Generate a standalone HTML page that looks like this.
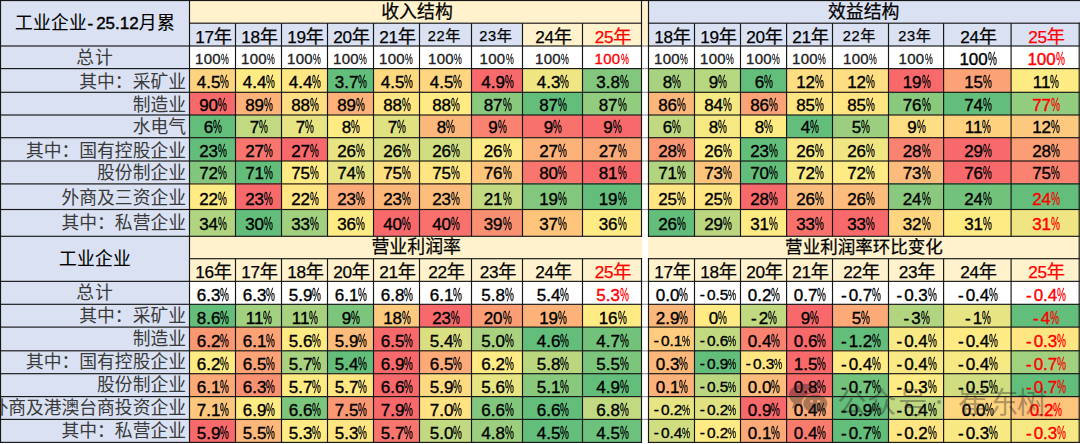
<!DOCTYPE html>
<html lang="zh"><head><meta charset="utf-8"><title>工业企业结构</title><style>
html,body{margin:0;padding:0}
body{width:1080px;height:444px;position:relative;overflow:hidden;background:#fff;font-family:"Liberation Sans","Noto Sans CJK SC",sans-serif;color:#000}
.c{position:absolute;box-sizing:border-box;display:flex;align-items:flex-end;justify-content:center;white-space:nowrap;line-height:1;overflow:visible}
.l{position:absolute;background:#1c1c1c;z-index:3}
.t{font-family:"Liberation Sans","Noto Sans CJK SC",sans-serif;font-size:17.8px;line-height:1;letter-spacing:0}
.y{font-family:"Liberation Sans","Noto Sans CJK SC",sans-serif;font-size:18.2px;line-height:1;letter-spacing:0}
.ys .y{font-size:15.2px}
.v{font-size:17px;padding-bottom:2.4px;padding-left:1.2px;-webkit-text-stroke:.38px currentColor}
.v.sm{font-size:15px;color:#222;padding-bottom:2.8px;padding-left:0;padding-right:1px;letter-spacing:.3px;-webkit-text-stroke:.35px currentColor}
.v.s2{font-size:15.4px;padding-bottom:3.2px}
.m{margin-right:2.1px}
.v.red,.v.sm.red{color:#ff0000}
.sm .p,.s2 .p{transform:scale(.59,.93)}
.p{display:inline-block;width:.53em;transform:scale(.59,1.04);transform-origin:0 85%;-webkit-text-stroke:.3px currentColor;letter-spacing:0}
.yh{font-size:17.2px;padding-bottom:1px;padding-left:2px;letter-spacing:-.3px;-webkit-text-stroke:.25px currentColor}
.ys{font-size:14.6px;letter-spacing:.7px;position:relative;top:-2.3px;left:-2.4px}
.yr{display:inline-block}
.lb{justify-content:flex-end;padding-right:4px;padding-bottom:1.5px;color:#3a3a3a}
.lb.ctr{justify-content:center;padding-right:0}
.hd{align-items:center;font-size:17px;color:#000;-webkit-text-stroke:.4px #000}
.hy{font-style:normal;display:inline-block;margin:0 3px 0 .5px}
.hd .t{-webkit-text-stroke:.1px #000}
.hd .ttl{position:relative;top:.6px}
.sec{align-items:center;color:#000;padding-top:2px}
.sec .t{font-size:17.9px;-webkit-text-stroke:.25px #000}
.wm{position:absolute;fill:rgba(30,30,30,0.37);z-index:5}
</style></head>
<body>
<div class="c hd" style="left:0px;top:0px;width:190px;height:47px;background:#d9e1f2"><span class="ttl"><span class="t" style="letter-spacing:.18px">工业企业</span><i class="hy">-</i>25.12<span class="t">月</span><i style="display:inline-block;width:.6px"></i><span class="t">累</span></span></div>
<div class="c lb ctr" style="left:0px;top:46px;width:190px;height:23px;background:#d9e1f2"><span class="t" style="letter-spacing:1px">总计</span></div>
<div class="c lb" style="left:0px;top:68px;width:190px;height:25px;background:#d9e1f2"><span class="t">其中：采矿业</span></div>
<div class="c lb" style="left:0px;top:92px;width:190px;height:24px;background:#d9e1f2"><span class="t">制造业</span></div>
<div class="c lb" style="left:0px;top:115px;width:190px;height:23px;background:#d9e1f2"><span class="t">水电气</span></div>
<div class="c lb" style="left:0px;top:137px;width:190px;height:25px;background:#d9e1f2"><span class="t">其中：国有控股企业</span></div>
<div class="c lb" style="left:0px;top:161px;width:190px;height:23px;background:#d9e1f2"><span class="t">股份制企业</span></div>
<div class="c lb" style="left:0px;top:183px;width:190px;height:27px;background:#d9e1f2;padding-bottom:2.4px"><span class="t">外商及三资企业</span></div>
<div class="c lb" style="left:0px;top:209px;width:190px;height:28px;background:#d9e1f2;padding-bottom:4.0px"><span class="t">其中：私营企业</span></div>
<div class="c hd" style="left:0px;top:236px;width:190px;height:46px;background:#d9e1f2"><span class="ttl"><span class="t" style="letter-spacing:.18px">工业企业</span></span></div>
<div class="c lb ctr" style="left:0px;top:281px;width:190px;height:24px;background:#d9e1f2;padding-bottom:2.1px"><span class="t" style="letter-spacing:1px">总计</span></div>
<div class="c lb" style="left:0px;top:304px;width:190px;height:24px;background:#d9e1f2;padding-bottom:2.1px"><span class="t">其中：采矿业</span></div>
<div class="c lb" style="left:0px;top:327px;width:190px;height:24px;background:#d9e1f2;padding-bottom:2.1px"><span class="t">制造业</span></div>
<div class="c lb" style="left:0px;top:350px;width:190px;height:24px;background:#d9e1f2;padding-bottom:2.1px"><span class="t">其中：国有控股企业</span></div>
<div class="c lb" style="left:0px;top:373px;width:190px;height:24px;background:#d9e1f2;padding-bottom:2.1px"><span class="t">股份制企业</span></div>
<div class="c lb" style="left:0px;top:396px;width:190px;height:24px;background:#d9e1f2;padding-bottom:2.1px"><span class="t">外商及港澳台商投资企业</span></div>
<div class="c lb" style="left:0px;top:419px;width:190px;height:24px;background:#d9e1f2;padding-bottom:2.1px"><span class="t">其中：私营企业</span></div>
<div class="c sec" style="left:189px;top:0px;width:453px;height:24px;background:#fff2cc;padding-left:3px"><span class="t">收入结构</span></div>
<div class="c " style="left:641px;top:0px;width:8px;height:47px;background:#fff2cc"></div>
<div class="c sec" style="left:648px;top:0px;width:432px;height:24px;background:#d9e1f2;padding-right:.6px"><span class="t">效益结构</span></div>
<div class="c yh" style="left:189px;top:23px;width:47px;height:24px;background:#d9e1f2"><span class="yr">17<span class="y">年</span></span></div>
<div class="c yh" style="left:235px;top:23px;width:47px;height:24px;background:#d9e1f2"><span class="yr">18<span class="y">年</span></span></div>
<div class="c yh" style="left:281px;top:23px;width:47px;height:24px;background:#d9e1f2"><span class="yr">19<span class="y">年</span></span></div>
<div class="c yh" style="left:327px;top:23px;width:47px;height:24px;background:#d9e1f2"><span class="yr">20<span class="y">年</span></span></div>
<div class="c yh" style="left:373px;top:23px;width:47px;height:24px;background:#d9e1f2"><span class="yr">21<span class="y">年</span></span></div>
<div class="c yh" style="left:419px;top:23px;width:53px;height:24px;background:#d9e1f2"><span class="yr ys">22<span class="y">年</span></span></div>
<div class="c yh" style="left:471px;top:23px;width:52px;height:24px;background:#d9e1f2"><span class="yr ys">23<span class="y">年</span></span></div>
<div class="c yh" style="left:522px;top:23px;width:61px;height:24px;background:#fff2cc"><span class="yr">24<span class="y">年</span></span></div>
<div class="c yh" style="left:582px;top:23px;width:60px;height:24px;background:#fff2cc"><span class="yr" style="color:#f00">25<span class="y">年</span></span></div>
<div class="c yh" style="left:648px;top:23px;width:47px;height:24px;background:#d9e1f2"><span class="yr">18<span class="y">年</span></span></div>
<div class="c yh" style="left:694px;top:23px;width:47px;height:24px;background:#d9e1f2"><span class="yr">19<span class="y">年</span></span></div>
<div class="c yh" style="left:740px;top:23px;width:47px;height:24px;background:#d9e1f2"><span class="yr">20<span class="y">年</span></span></div>
<div class="c yh" style="left:786px;top:23px;width:47px;height:24px;background:#d9e1f2"><span class="yr">21<span class="y">年</span></span></div>
<div class="c yh" style="left:832px;top:23px;width:57px;height:24px;background:#d9e1f2"><span class="yr ys">22<span class="y">年</span></span></div>
<div class="c yh" style="left:888px;top:23px;width:56px;height:24px;background:#d9e1f2"><span class="yr ys">23<span class="y">年</span></span></div>
<div class="c yh" style="left:943px;top:23px;width:69px;height:24px;background:#d9e1f2"><span class="yr">24<span class="y">年</span></span></div>
<div class="c yh" style="left:1011px;top:23px;width:69px;height:24px;background:#d9e1f2"><span class="yr" style="color:#f00">25<span class="y">年</span></span></div>
<div class="c v sm" style="left:189px;top:46px;width:47px;height:23px;background:#fff">100<span class="p">%</span></div>
<div class="c v sm" style="left:235px;top:46px;width:47px;height:23px;background:#fff">100<span class="p">%</span></div>
<div class="c v sm" style="left:281px;top:46px;width:47px;height:23px;background:#fff">100<span class="p">%</span></div>
<div class="c v sm" style="left:327px;top:46px;width:47px;height:23px;background:#fff">100<span class="p">%</span></div>
<div class="c v sm" style="left:373px;top:46px;width:47px;height:23px;background:#fff">100<span class="p">%</span></div>
<div class="c v sm" style="left:419px;top:46px;width:53px;height:23px;background:#fff">100<span class="p">%</span></div>
<div class="c v sm" style="left:471px;top:46px;width:52px;height:23px;background:#fff">100<span class="p">%</span></div>
<div class="c v sm" style="left:522px;top:46px;width:61px;height:23px;background:#fff">100<span class="p">%</span></div>
<div class="c v sm red" style="left:582px;top:46px;width:60px;height:23px;background:#fff">100<span class="p">%</span></div>
<div class="c v sm" style="left:648px;top:46px;width:47px;height:23px;background:#fff">100<span class="p">%</span></div>
<div class="c v sm" style="left:694px;top:46px;width:47px;height:23px;background:#fff">100<span class="p">%</span></div>
<div class="c v sm" style="left:740px;top:46px;width:47px;height:23px;background:#fff">100<span class="p">%</span></div>
<div class="c v sm" style="left:786px;top:46px;width:47px;height:23px;background:#fff">100<span class="p">%</span></div>
<div class="c v sm" style="left:832px;top:46px;width:57px;height:23px;background:#fff">100<span class="p">%</span></div>
<div class="c v sm" style="left:888px;top:46px;width:56px;height:23px;background:#fff">100<span class="p">%</span></div>
<div class="c v" style="left:943px;top:46px;width:69px;height:23px;background:#fff;padding-bottom:1.3px">100<span class="p">%</span></div>
<div class="c v red" style="left:1011px;top:46px;width:69px;height:23px;background:#fff;padding-bottom:1.3px">100<span class="p">%</span></div>
<div class="c " style="left:641px;top:46px;width:8px;height:397px;background:#fff"></div>
<div class="c v" style="left:189px;top:68px;width:47px;height:25px;background:#fed480">4.5<span class="p">%</span></div>
<div class="c v" style="left:235px;top:68px;width:47px;height:25px;background:#ffeb84">4.4<span class="p">%</span></div>
<div class="c v" style="left:281px;top:68px;width:47px;height:25px;background:#ffe884">4.4<span class="p">%</span></div>
<div class="c v" style="left:327px;top:68px;width:47px;height:25px;background:#63be7b">3.7<span class="p">%</span></div>
<div class="c v" style="left:373px;top:68px;width:47px;height:25px;background:#fed980">4.5<span class="p">%</span></div>
<div class="c v" style="left:419px;top:68px;width:53px;height:25px;background:#fed680">4.5<span class="p">%</span></div>
<div class="c v" style="left:471px;top:68px;width:52px;height:25px;background:#f8696b">4.9<span class="p">%</span></div>
<div class="c v" style="left:522px;top:68px;width:61px;height:25px;background:#efe683">4.3<span class="p">%</span></div>
<div class="c v" style="left:582px;top:68px;width:60px;height:25px;background:#82c77d">3.8<span class="p">%</span></div>
<div class="c v" style="left:189px;top:92px;width:47px;height:24px;background:#f8696b">90<span class="p">%</span></div>
<div class="c v" style="left:235px;top:92px;width:47px;height:24px;background:#fcb279">89<span class="p">%</span></div>
<div class="c v" style="left:281px;top:92px;width:47px;height:24px;background:#fede82">88<span class="p">%</span></div>
<div class="c v" style="left:327px;top:92px;width:47px;height:24px;background:#fcb279">89<span class="p">%</span></div>
<div class="c v" style="left:373px;top:92px;width:47px;height:24px;background:#ffe683">88<span class="p">%</span></div>
<div class="c v" style="left:419px;top:92px;width:53px;height:24px;background:#ffeb84">88<span class="p">%</span></div>
<div class="c v" style="left:471px;top:92px;width:52px;height:24px;background:#88c97d">87<span class="p">%</span></div>
<div class="c v" style="left:522px;top:92px;width:61px;height:24px;background:#63be7b">87<span class="p">%</span></div>
<div class="c v" style="left:582px;top:92px;width:60px;height:24px;background:#92cc7e">87<span class="p">%</span></div>
<div class="c v" style="left:189px;top:115px;width:47px;height:23px;background:#63be7b">6<span class="p">%</span></div>
<div class="c v" style="left:235px;top:115px;width:47px;height:23px;background:#c1d980">7<span class="p">%</span></div>
<div class="c v" style="left:281px;top:115px;width:47px;height:23px;background:#e6e483">7<span class="p">%</span></div>
<div class="c v" style="left:327px;top:115px;width:47px;height:23px;background:#ffeb84">8<span class="p">%</span></div>
<div class="c v" style="left:373px;top:115px;width:47px;height:23px;background:#e0e282">7<span class="p">%</span></div>
<div class="c v" style="left:419px;top:115px;width:53px;height:23px;background:#fcb77a">8<span class="p">%</span></div>
<div class="c v" style="left:471px;top:115px;width:52px;height:23px;background:#f98370">9<span class="p">%</span></div>
<div class="c v" style="left:522px;top:115px;width:61px;height:23px;background:#f8716c">9<span class="p">%</span></div>
<div class="c v" style="left:582px;top:115px;width:60px;height:23px;background:#f8696b">9<span class="p">%</span></div>
<div class="c v" style="left:189px;top:137px;width:47px;height:25px;background:#63be7b">23<span class="p">%</span></div>
<div class="c v" style="left:235px;top:137px;width:47px;height:25px;background:#f9766e">27<span class="p">%</span></div>
<div class="c v" style="left:281px;top:137px;width:47px;height:25px;background:#f8696b">27<span class="p">%</span></div>
<div class="c v" style="left:327px;top:137px;width:47px;height:25px;background:#e6e483">26<span class="p">%</span></div>
<div class="c v" style="left:373px;top:137px;width:47px;height:25px;background:#dae082">26<span class="p">%</span></div>
<div class="c v" style="left:419px;top:137px;width:53px;height:25px;background:#d0de81">26<span class="p">%</span></div>
<div class="c v" style="left:471px;top:137px;width:52px;height:25px;background:#ffeb84">26<span class="p">%</span></div>
<div class="c v" style="left:522px;top:137px;width:61px;height:25px;background:#fcb279">27<span class="p">%</span></div>
<div class="c v" style="left:582px;top:137px;width:60px;height:25px;background:#fcaa78">27<span class="p">%</span></div>
<div class="c v" style="left:189px;top:161px;width:47px;height:23px;background:#82c77d">72<span class="p">%</span></div>
<div class="c v" style="left:235px;top:161px;width:47px;height:23px;background:#63be7b">71<span class="p">%</span></div>
<div class="c v" style="left:281px;top:161px;width:47px;height:23px;background:#ffeb84">75<span class="p">%</span></div>
<div class="c v" style="left:327px;top:161px;width:47px;height:23px;background:#e6e483">74<span class="p">%</span></div>
<div class="c v" style="left:373px;top:161px;width:47px;height:23px;background:#fede82">75<span class="p">%</span></div>
<div class="c v" style="left:419px;top:161px;width:53px;height:23px;background:#ffe683">75<span class="p">%</span></div>
<div class="c v" style="left:471px;top:161px;width:52px;height:23px;background:#fdc47c">76<span class="p">%</span></div>
<div class="c v" style="left:522px;top:161px;width:61px;height:23px;background:#f9766e">80<span class="p">%</span></div>
<div class="c v" style="left:582px;top:161px;width:60px;height:23px;background:#f8696b">81<span class="p">%</span></div>
<div class="c v" style="left:189px;top:183px;width:47px;height:27px;background:#ffeb84">22<span class="p">%</span></div>
<div class="c v" style="left:235px;top:183px;width:47px;height:27px;background:#f8696b">23<span class="p">%</span></div>
<div class="c v" style="left:281px;top:183px;width:47px;height:27px;background:#ffe683">22<span class="p">%</span></div>
<div class="c v" style="left:327px;top:183px;width:47px;height:27px;background:#fcaa78">23<span class="p">%</span></div>
<div class="c v" style="left:373px;top:183px;width:47px;height:27px;background:#fcb77a">23<span class="p">%</span></div>
<div class="c v" style="left:419px;top:183px;width:53px;height:27px;background:#fcbc7b">23<span class="p">%</span></div>
<div class="c v" style="left:471px;top:183px;width:52px;height:27px;background:#c1d980">21<span class="p">%</span></div>
<div class="c v" style="left:522px;top:183px;width:61px;height:27px;background:#82c77d">19<span class="p">%</span></div>
<div class="c v" style="left:582px;top:183px;width:60px;height:27px;background:#63be7b">19<span class="p">%</span></div>
<div class="c v" style="left:189px;top:209px;width:47px;height:28px;background:#b1d480;padding-bottom:3.6px">34<span class="p">%</span></div>
<div class="c v" style="left:235px;top:209px;width:47px;height:28px;background:#63be7b;padding-bottom:3.6px">30<span class="p">%</span></div>
<div class="c v" style="left:281px;top:209px;width:47px;height:28px;background:#a1d07f;padding-bottom:3.6px">33<span class="p">%</span></div>
<div class="c v" style="left:327px;top:209px;width:47px;height:28px;background:#ffeb84;padding-bottom:3.6px">36<span class="p">%</span></div>
<div class="c v" style="left:373px;top:209px;width:47px;height:28px;background:#f8696b;padding-bottom:3.6px">40<span class="p">%</span></div>
<div class="c v" style="left:419px;top:209px;width:53px;height:28px;background:#f8716c;padding-bottom:3.6px">40<span class="p">%</span></div>
<div class="c v" style="left:471px;top:209px;width:52px;height:28px;background:#fa9072;padding-bottom:3.6px">39<span class="p">%</span></div>
<div class="c v" style="left:522px;top:209px;width:61px;height:28px;background:#fdc47c;padding-bottom:3.6px">37<span class="p">%</span></div>
<div class="c v" style="left:582px;top:209px;width:60px;height:28px;background:#ffeb84;padding-bottom:3.6px">36<span class="p">%</span></div>
<div class="c v" style="left:648px;top:68px;width:47px;height:25px;background:#a8d27f">8<span class="p">%</span></div>
<div class="c v" style="left:694px;top:68px;width:47px;height:25px;background:#b7d680">9<span class="p">%</span></div>
<div class="c v" style="left:740px;top:68px;width:47px;height:25px;background:#63be7b">6<span class="p">%</span></div>
<div class="c v" style="left:786px;top:68px;width:47px;height:25px;background:#fede82">12<span class="p">%</span></div>
<div class="c v" style="left:832px;top:68px;width:57px;height:25px;background:#fede82">12<span class="p">%</span></div>
<div class="c v" style="left:888px;top:68px;width:56px;height:25px;background:#f8696b">19<span class="p">%</span></div>
<div class="c v" style="left:943px;top:68px;width:69px;height:25px;background:#fba276">15<span class="p">%</span></div>
<div class="c v" style="left:1011px;top:68px;width:69px;height:25px;background:#ffeb84">11<span class="p">%</span></div>
<div class="c v" style="left:648px;top:92px;width:47px;height:24px;background:#fcb77a">86<span class="p">%</span></div>
<div class="c v" style="left:694px;top:92px;width:47px;height:24px;background:#f6e883">84<span class="p">%</span></div>
<div class="c v" style="left:740px;top:92px;width:47px;height:24px;background:#fba276">86<span class="p">%</span></div>
<div class="c v" style="left:786px;top:92px;width:47px;height:24px;background:#ffe683">85<span class="p">%</span></div>
<div class="c v" style="left:832px;top:92px;width:57px;height:24px;background:#ffe683">85<span class="p">%</span></div>
<div class="c v" style="left:888px;top:92px;width:56px;height:24px;background:#88c97d">76<span class="p">%</span></div>
<div class="c v" style="left:943px;top:92px;width:69px;height:24px;background:#63be7b">74<span class="p">%</span></div>
<div class="c v red" style="left:1011px;top:92px;width:69px;height:24px;background:#92cc7e">77<span class="p">%</span></div>
<div class="c v" style="left:648px;top:115px;width:47px;height:23px;background:#c1d980">6<span class="p">%</span></div>
<div class="c v" style="left:694px;top:115px;width:47px;height:23px;background:#f6e883">8<span class="p">%</span></div>
<div class="c v" style="left:740px;top:115px;width:47px;height:23px;background:#ffeb84">8<span class="p">%</span></div>
<div class="c v" style="left:786px;top:115px;width:47px;height:23px;background:#63be7b">4<span class="p">%</span></div>
<div class="c v" style="left:832px;top:115px;width:57px;height:23px;background:#9bce7e">5<span class="p">%</span></div>
<div class="c v" style="left:888px;top:115px;width:56px;height:23px;background:#fede82">9<span class="p">%</span></div>
<div class="c v" style="left:943px;top:115px;width:69px;height:23px;background:#fed17f">11<span class="p">%</span></div>
<div class="c v" style="left:1011px;top:115px;width:69px;height:23px;background:#fdc97e">12<span class="p">%</span></div>
<div class="c v" style="left:648px;top:137px;width:47px;height:25px;background:#fb9874">28<span class="p">%</span></div>
<div class="c v" style="left:694px;top:137px;width:47px;height:25px;background:#ffeb84">26<span class="p">%</span></div>
<div class="c v" style="left:740px;top:137px;width:47px;height:25px;background:#63be7b">23<span class="p">%</span></div>
<div class="c v" style="left:786px;top:137px;width:47px;height:25px;background:#f9e984">26<span class="p">%</span></div>
<div class="c v" style="left:832px;top:137px;width:57px;height:25px;background:#efe683">26<span class="p">%</span></div>
<div class="c v" style="left:888px;top:137px;width:56px;height:25px;background:#f98370">28<span class="p">%</span></div>
<div class="c v" style="left:943px;top:137px;width:69px;height:25px;background:#f8696b">29<span class="p">%</span></div>
<div class="c v" style="left:1011px;top:137px;width:69px;height:25px;background:#fb9d75">28<span class="p">%</span></div>
<div class="c v" style="left:648px;top:161px;width:47px;height:23px;background:#b1d480">71<span class="p">%</span></div>
<div class="c v" style="left:694px;top:161px;width:47px;height:23px;background:#fdc47c">73<span class="p">%</span></div>
<div class="c v" style="left:740px;top:161px;width:47px;height:23px;background:#63be7b">70<span class="p">%</span></div>
<div class="c v" style="left:786px;top:161px;width:47px;height:23px;background:#f9e984">72<span class="p">%</span></div>
<div class="c v" style="left:832px;top:161px;width:57px;height:23px;background:#ffeb84">72<span class="p">%</span></div>
<div class="c v" style="left:888px;top:161px;width:56px;height:23px;background:#fcbc7b">73<span class="p">%</span></div>
<div class="c v" style="left:943px;top:161px;width:69px;height:23px;background:#f8696b">76<span class="p">%</span></div>
<div class="c v" style="left:1011px;top:161px;width:69px;height:23px;background:#f98370">75<span class="p">%</span></div>
<div class="c v" style="left:648px;top:183px;width:47px;height:27px;background:#ffe683">25<span class="p">%</span></div>
<div class="c v" style="left:694px;top:183px;width:47px;height:27px;background:#ffe683">25<span class="p">%</span></div>
<div class="c v" style="left:740px;top:183px;width:47px;height:27px;background:#f8696b">28<span class="p">%</span></div>
<div class="c v" style="left:786px;top:183px;width:47px;height:27px;background:#fcbc7b">26<span class="p">%</span></div>
<div class="c v" style="left:832px;top:183px;width:57px;height:27px;background:#fcbc7b">26<span class="p">%</span></div>
<div class="c v" style="left:888px;top:183px;width:56px;height:27px;background:#88c97d">24<span class="p">%</span></div>
<div class="c v" style="left:943px;top:183px;width:69px;height:27px;background:#73c27c">24<span class="p">%</span></div>
<div class="c v red" style="left:1011px;top:183px;width:69px;height:27px;background:#63be7b">24<span class="p">%</span></div>
<div class="c v" style="left:648px;top:209px;width:47px;height:28px;background:#63be7b;padding-bottom:3.6px">26<span class="p">%</span></div>
<div class="c v" style="left:694px;top:209px;width:47px;height:28px;background:#bad780;padding-bottom:3.6px">29<span class="p">%</span></div>
<div class="c v" style="left:740px;top:209px;width:47px;height:28px;background:#ffeb84;padding-bottom:3.6px">31<span class="p">%</span></div>
<div class="c v" style="left:786px;top:209px;width:47px;height:28px;background:#f8716c;padding-bottom:3.6px">33<span class="p">%</span></div>
<div class="c v" style="left:832px;top:209px;width:57px;height:28px;background:#f8696b;padding-bottom:3.6px">33<span class="p">%</span></div>
<div class="c v" style="left:888px;top:209px;width:56px;height:28px;background:#fed680;padding-bottom:3.6px">32<span class="p">%</span></div>
<div class="c v" style="left:943px;top:209px;width:69px;height:28px;background:#ffeb84;padding-bottom:3.6px">31<span class="p">%</span></div>
<div class="c v red" style="left:1011px;top:209px;width:69px;height:28px;background:#efe683;padding-bottom:3.6px">31<span class="p">%</span></div>
<div class="c sec" style="left:189px;top:236px;width:453px;height:23px;background:#fff2cc;padding-left:1.4px;padding-top:1px"><span class="t">营业利润率</span></div>
<div class="c sec" style="left:648px;top:236px;width:432px;height:23px;background:#fff2cc;padding-top:1px"><span class="t" style="font-size:17.55px">营业利润率环比变化</span></div>
<div class="c yh" style="left:189px;top:258px;width:47px;height:24px;background:#fff2cc"><span class="yr">16<span class="y">年</span></span></div>
<div class="c yh" style="left:235px;top:258px;width:47px;height:24px;background:#fff2cc"><span class="yr">17<span class="y">年</span></span></div>
<div class="c yh" style="left:281px;top:258px;width:47px;height:24px;background:#fff2cc"><span class="yr">18<span class="y">年</span></span></div>
<div class="c yh" style="left:327px;top:258px;width:47px;height:24px;background:#fff2cc"><span class="yr">20<span class="y">年</span></span></div>
<div class="c yh" style="left:373px;top:258px;width:47px;height:24px;background:#fff2cc"><span class="yr">21<span class="y">年</span></span></div>
<div class="c yh" style="left:419px;top:258px;width:53px;height:24px;background:#fff2cc"><span class="yr">22<span class="y">年</span></span></div>
<div class="c yh" style="left:471px;top:258px;width:52px;height:24px;background:#fff2cc"><span class="yr">23<span class="y">年</span></span></div>
<div class="c yh" style="left:522px;top:258px;width:61px;height:24px;background:#fff2cc"><span class="yr">24<span class="y">年</span></span></div>
<div class="c yh" style="left:582px;top:258px;width:60px;height:24px;background:#fff2cc"><span class="yr" style="color:#f00">25<span class="y">年</span></span></div>
<div class="c yh" style="left:648px;top:258px;width:47px;height:24px;background:#fff2cc"><span class="yr">17<span class="y">年</span></span></div>
<div class="c yh" style="left:694px;top:258px;width:47px;height:24px;background:#fff2cc"><span class="yr">18<span class="y">年</span></span></div>
<div class="c yh" style="left:740px;top:258px;width:47px;height:24px;background:#fff2cc"><span class="yr">20<span class="y">年</span></span></div>
<div class="c yh" style="left:786px;top:258px;width:47px;height:24px;background:#fff2cc"><span class="yr">21<span class="y">年</span></span></div>
<div class="c yh" style="left:832px;top:258px;width:57px;height:24px;background:#fff2cc"><span class="yr">22<span class="y">年</span></span></div>
<div class="c yh" style="left:888px;top:258px;width:56px;height:24px;background:#fff2cc"><span class="yr">23<span class="y">年</span></span></div>
<div class="c yh" style="left:943px;top:258px;width:69px;height:24px;background:#fff2cc"><span class="yr">24<span class="y">年</span></span></div>
<div class="c yh" style="left:1011px;top:258px;width:69px;height:24px;background:#fff2cc"><span class="yr" style="color:#f00">25<span class="y">年</span></span></div>
<div class="c v" style="left:189px;top:281px;width:47px;height:24px;background:#fff;padding-bottom:1.5px">6.3<span class="p">%</span></div>
<div class="c v" style="left:235px;top:281px;width:47px;height:24px;background:#fff;padding-bottom:1.5px">6.3<span class="p">%</span></div>
<div class="c v" style="left:281px;top:281px;width:47px;height:24px;background:#fff;padding-bottom:1.5px">5.9<span class="p">%</span></div>
<div class="c v" style="left:327px;top:281px;width:47px;height:24px;background:#fff;padding-bottom:1.5px">6.1<span class="p">%</span></div>
<div class="c v" style="left:373px;top:281px;width:47px;height:24px;background:#fff;padding-bottom:1.5px">6.8<span class="p">%</span></div>
<div class="c v" style="left:419px;top:281px;width:53px;height:24px;background:#fff;padding-bottom:1.5px">6.1<span class="p">%</span></div>
<div class="c v" style="left:471px;top:281px;width:52px;height:24px;background:#fff;padding-bottom:1.5px">5.8<span class="p">%</span></div>
<div class="c v" style="left:522px;top:281px;width:61px;height:24px;background:#fff;padding-bottom:1.5px">5.4<span class="p">%</span></div>
<div class="c v red" style="left:582px;top:281px;width:60px;height:24px;background:#fff;padding-bottom:1.5px">5.3<span class="p">%</span></div>
<div class="c v" style="left:648px;top:281px;width:47px;height:24px;background:#fff;padding-bottom:1.5px">0.0<span class="p">%</span></div>
<div class="c v s2" style="left:694px;top:281px;width:47px;height:24px;background:#fff;padding-bottom:2.3px"><span class="m">-</span>0.5<span class="p">%</span></div>
<div class="c v" style="left:740px;top:281px;width:47px;height:24px;background:#fff;padding-bottom:1.5px">0.2<span class="p">%</span></div>
<div class="c v" style="left:786px;top:281px;width:47px;height:24px;background:#fff;padding-bottom:1.5px">0.7<span class="p">%</span></div>
<div class="c v" style="left:832px;top:281px;width:57px;height:24px;background:#fff;padding-bottom:1.5px"><span class="m">-</span>0.7<span class="p">%</span></div>
<div class="c v" style="left:888px;top:281px;width:56px;height:24px;background:#fff;padding-bottom:1.5px"><span class="m">-</span>0.3<span class="p">%</span></div>
<div class="c v" style="left:943px;top:281px;width:69px;height:24px;background:#fff;padding-bottom:1.5px"><span class="m">-</span>0.4<span class="p">%</span></div>
<div class="c v red" style="left:1011px;top:281px;width:69px;height:24px;background:#fff;padding-bottom:1.5px"><span class="m">-</span>0.4<span class="p">%</span></div>
<div class="c v" style="left:189px;top:304px;width:47px;height:24px;background:#63be7b;padding-bottom:1.5px">8.6<span class="p">%</span></div>
<div class="c v" style="left:235px;top:304px;width:47px;height:24px;background:#a1d07f;padding-bottom:1.5px">11<span class="p">%</span></div>
<div class="c v" style="left:281px;top:304px;width:47px;height:24px;background:#a8d27f;padding-bottom:1.5px">11<span class="p">%</span></div>
<div class="c v" style="left:327px;top:304px;width:47px;height:24px;background:#7cc57c;padding-bottom:1.5px">9<span class="p">%</span></div>
<div class="c v" style="left:373px;top:304px;width:47px;height:24px;background:#fdc97e;padding-bottom:1.5px">18<span class="p">%</span></div>
<div class="c v" style="left:419px;top:304px;width:53px;height:24px;background:#f8696b;padding-bottom:1.5px">23<span class="p">%</span></div>
<div class="c v" style="left:471px;top:304px;width:52px;height:24px;background:#fb9d75;padding-bottom:1.5px">20<span class="p">%</span></div>
<div class="c v" style="left:522px;top:304px;width:61px;height:24px;background:#fcb279;padding-bottom:1.5px">19<span class="p">%</span></div>
<div class="c v" style="left:582px;top:304px;width:60px;height:24px;background:#ffeb84;padding-bottom:1.5px">16<span class="p">%</span></div>
<div class="c v" style="left:189px;top:327px;width:47px;height:24px;background:#fb9874;padding-bottom:1.5px">6.2<span class="p">%</span></div>
<div class="c v" style="left:235px;top:327px;width:47px;height:24px;background:#fba276;padding-bottom:1.5px">6.1<span class="p">%</span></div>
<div class="c v" style="left:281px;top:327px;width:47px;height:24px;background:#ffeb84;padding-bottom:1.5px">5.6<span class="p">%</span></div>
<div class="c v" style="left:327px;top:327px;width:47px;height:24px;background:#fcbc7b;padding-bottom:1.5px">5.9<span class="p">%</span></div>
<div class="c v" style="left:373px;top:327px;width:47px;height:24px;background:#f8696b;padding-bottom:1.5px">6.5<span class="p">%</span></div>
<div class="c v" style="left:419px;top:327px;width:53px;height:24px;background:#dae082;padding-bottom:1.5px">5.4<span class="p">%</span></div>
<div class="c v" style="left:471px;top:327px;width:52px;height:24px;background:#a8d27f;padding-bottom:1.5px">5.0<span class="p">%</span></div>
<div class="c v" style="left:522px;top:327px;width:61px;height:24px;background:#63be7b;padding-bottom:1.5px">4.6<span class="p">%</span></div>
<div class="c v" style="left:582px;top:327px;width:60px;height:24px;background:#73c27c;padding-bottom:1.5px">4.7<span class="p">%</span></div>
<div class="c v" style="left:189px;top:350px;width:47px;height:24px;background:#ffeb84;padding-bottom:1.5px">6.2<span class="p">%</span></div>
<div class="c v" style="left:235px;top:350px;width:47px;height:24px;background:#fba276;padding-bottom:1.5px">6.5<span class="p">%</span></div>
<div class="c v" style="left:281px;top:350px;width:47px;height:24px;background:#a8d27f;padding-bottom:1.5px">5.7<span class="p">%</span></div>
<div class="c v" style="left:327px;top:350px;width:47px;height:24px;background:#63be7b;padding-bottom:1.5px">5.4<span class="p">%</span></div>
<div class="c v" style="left:373px;top:350px;width:47px;height:24px;background:#f8696b;padding-bottom:1.5px">6.9<span class="p">%</span></div>
<div class="c v" style="left:419px;top:350px;width:53px;height:24px;background:#fcaa78;padding-bottom:1.5px">6.5<span class="p">%</span></div>
<div class="c v" style="left:471px;top:350px;width:52px;height:24px;background:#ffeb84;padding-bottom:1.5px">6.2<span class="p">%</span></div>
<div class="c v" style="left:522px;top:350px;width:61px;height:24px;background:#bad780;padding-bottom:1.5px">5.8<span class="p">%</span></div>
<div class="c v" style="left:582px;top:350px;width:60px;height:24px;background:#7cc57c;padding-bottom:1.5px">5.5<span class="p">%</span></div>
<div class="c v" style="left:189px;top:373px;width:47px;height:24px;background:#fcaa78;padding-bottom:1.5px">6.1<span class="p">%</span></div>
<div class="c v" style="left:235px;top:373px;width:47px;height:24px;background:#fa9072;padding-bottom:1.5px">6.3<span class="p">%</span></div>
<div class="c v" style="left:281px;top:373px;width:47px;height:24px;background:#ffeb84;padding-bottom:1.5px">5.7<span class="p">%</span></div>
<div class="c v" style="left:327px;top:373px;width:47px;height:24px;background:#ffe683;padding-bottom:1.5px">5.7<span class="p">%</span></div>
<div class="c v" style="left:373px;top:373px;width:47px;height:24px;background:#f8696b;padding-bottom:1.5px">6.6<span class="p">%</span></div>
<div class="c v" style="left:419px;top:373px;width:53px;height:24px;background:#fedb81;padding-bottom:1.5px">5.9<span class="p">%</span></div>
<div class="c v" style="left:471px;top:373px;width:52px;height:24px;background:#e6e483;padding-bottom:1.5px">5.6<span class="p">%</span></div>
<div class="c v" style="left:522px;top:373px;width:61px;height:24px;background:#88c97d;padding-bottom:1.5px">5.1<span class="p">%</span></div>
<div class="c v" style="left:582px;top:373px;width:60px;height:24px;background:#63be7b;padding-bottom:1.5px">4.9<span class="p">%</span></div>
<div class="c v" style="left:189px;top:396px;width:47px;height:24px;background:#fdc77d;padding-bottom:1.5px">7.1<span class="p">%</span></div>
<div class="c v" style="left:235px;top:396px;width:47px;height:24px;background:#ffeb84;padding-bottom:1.5px">6.9<span class="p">%</span></div>
<div class="c v" style="left:281px;top:396px;width:47px;height:24px;background:#7cc57c;padding-bottom:1.5px">6.6<span class="p">%</span></div>
<div class="c v" style="left:327px;top:396px;width:47px;height:24px;background:#fb9874;padding-bottom:1.5px">7.5<span class="p">%</span></div>
<div class="c v" style="left:373px;top:396px;width:47px;height:24px;background:#f8696b;padding-bottom:1.5px">7.9<span class="p">%</span></div>
<div class="c v" style="left:419px;top:396px;width:53px;height:24px;background:#ffe382;padding-bottom:1.5px">7.0<span class="p">%</span></div>
<div class="c v" style="left:471px;top:396px;width:52px;height:24px;background:#82c77d;padding-bottom:1.5px">6.6<span class="p">%</span></div>
<div class="c v" style="left:522px;top:396px;width:61px;height:24px;background:#63be7b;padding-bottom:1.5px">6.6<span class="p">%</span></div>
<div class="c v" style="left:582px;top:396px;width:60px;height:24px;background:#c1d980;padding-bottom:1.5px">6.8<span class="p">%</span></div>
<div class="c v" style="left:189px;top:419px;width:47px;height:24px;background:#f8696b;padding-bottom:1.5px">5.9<span class="p">%</span></div>
<div class="c v" style="left:235px;top:419px;width:47px;height:24px;background:#fcb77a;padding-bottom:1.5px">5.5<span class="p">%</span></div>
<div class="c v" style="left:281px;top:419px;width:47px;height:24px;background:#ffeb84;padding-bottom:1.5px">5.3<span class="p">%</span></div>
<div class="c v" style="left:327px;top:419px;width:47px;height:24px;background:#ffe683;padding-bottom:1.5px">5.3<span class="p">%</span></div>
<div class="c v" style="left:373px;top:419px;width:47px;height:24px;background:#f9766e;padding-bottom:1.5px">5.7<span class="p">%</span></div>
<div class="c v" style="left:419px;top:419px;width:53px;height:24px;background:#c1d980;padding-bottom:1.5px">5.0<span class="p">%</span></div>
<div class="c v" style="left:471px;top:419px;width:52px;height:24px;background:#9bce7e;padding-bottom:1.5px">4.8<span class="p">%</span></div>
<div class="c v" style="left:522px;top:419px;width:61px;height:24px;background:#63be7b;padding-bottom:1.5px">4.5<span class="p">%</span></div>
<div class="c v" style="left:582px;top:419px;width:60px;height:24px;background:#6cc17c;padding-bottom:1.5px">4.5<span class="p">%</span></div>
<div class="c v" style="left:648px;top:304px;width:47px;height:24px;background:#fcb77a;padding-bottom:1.5px">2.9<span class="p">%</span></div>
<div class="c v" style="left:694px;top:304px;width:47px;height:24px;background:#ffeb84;padding-bottom:1.5px">0<span class="p">%</span></div>
<div class="c v" style="left:740px;top:304px;width:47px;height:24px;background:#c1d980;padding-bottom:1.5px"><span class="m">-</span>2<span class="p">%</span></div>
<div class="c v" style="left:786px;top:304px;width:47px;height:24px;background:#f8696b;padding-bottom:1.5px">9<span class="p">%</span></div>
<div class="c v" style="left:832px;top:304px;width:57px;height:24px;background:#fcaa78;padding-bottom:1.5px">5<span class="p">%</span></div>
<div class="c v" style="left:888px;top:304px;width:56px;height:24px;background:#b1d480;padding-bottom:1.5px"><span class="m">-</span>3<span class="p">%</span></div>
<div class="c v" style="left:943px;top:304px;width:69px;height:24px;background:#e6e483;padding-bottom:1.5px"><span class="m">-</span>1<span class="p">%</span></div>
<div class="c v red" style="left:1011px;top:304px;width:69px;height:24px;background:#63be7b;padding-bottom:1.5px"><span class="m">-</span>4<span class="p">%</span></div>
<div class="c v s2" style="left:648px;top:327px;width:47px;height:24px;background:#fdcc7e;padding-bottom:2.3px"><span class="m">-</span>0.1<span class="p">%</span></div>
<div class="c v s2" style="left:694px;top:327px;width:47px;height:24px;background:#c1d980;padding-bottom:2.3px"><span class="m">-</span>0.6<span class="p">%</span></div>
<div class="c v" style="left:740px;top:327px;width:47px;height:24px;background:#f98370;padding-bottom:1.5px">0.4<span class="p">%</span></div>
<div class="c v" style="left:786px;top:327px;width:47px;height:24px;background:#f8696b;padding-bottom:1.5px">0.6<span class="p">%</span></div>
<div class="c v" style="left:832px;top:327px;width:57px;height:24px;background:#63be7b;padding-bottom:1.5px"><span class="m">-</span>1.2<span class="p">%</span></div>
<div class="c v" style="left:888px;top:327px;width:56px;height:24px;background:#f9e984;padding-bottom:1.5px"><span class="m">-</span>0.4<span class="p">%</span></div>
<div class="c v" style="left:943px;top:327px;width:69px;height:24px;background:#ffeb84;padding-bottom:1.5px"><span class="m">-</span>0.4<span class="p">%</span></div>
<div class="c v red" style="left:1011px;top:327px;width:69px;height:24px;background:#ffe683;padding-bottom:1.5px"><span class="m">-</span>0.3<span class="p">%</span></div>
<div class="c v" style="left:648px;top:350px;width:47px;height:24px;background:#fcb77a;padding-bottom:1.5px">0.3<span class="p">%</span></div>
<div class="c v s2" style="left:694px;top:350px;width:47px;height:24px;background:#63be7b;padding-bottom:2.3px"><span class="m">-</span>0.9<span class="p">%</span></div>
<div class="c v s2" style="left:740px;top:350px;width:47px;height:24px;background:#ffe683;padding-bottom:2.3px"><span class="m">-</span>0.3<span class="p">%</span></div>
<div class="c v" style="left:786px;top:350px;width:47px;height:24px;background:#f8696b;padding-bottom:1.5px">1.5<span class="p">%</span></div>
<div class="c v" style="left:832px;top:350px;width:57px;height:24px;background:#ffeb84;padding-bottom:1.5px"><span class="m">-</span>0.4<span class="p">%</span></div>
<div class="c v" style="left:888px;top:350px;width:56px;height:24px;background:#f9e984;padding-bottom:1.5px"><span class="m">-</span>0.4<span class="p">%</span></div>
<div class="c v" style="left:943px;top:350px;width:69px;height:24px;background:#f6e883;padding-bottom:1.5px"><span class="m">-</span>0.4<span class="p">%</span></div>
<div class="c v red" style="left:1011px;top:350px;width:69px;height:24px;background:#a1d07f;padding-bottom:1.5px"><span class="m">-</span>0.7<span class="p">%</span></div>
<div class="c v" style="left:648px;top:373px;width:47px;height:24px;background:#fcb279;padding-bottom:1.5px">0.1<span class="p">%</span></div>
<div class="c v s2" style="left:694px;top:373px;width:47px;height:24px;background:#bad780;padding-bottom:2.3px"><span class="m">-</span>0.5<span class="p">%</span></div>
<div class="c v" style="left:740px;top:373px;width:47px;height:24px;background:#fcbc7b;padding-bottom:1.5px">0.0<span class="p">%</span></div>
<div class="c v" style="left:786px;top:373px;width:47px;height:24px;background:#f8696b;padding-bottom:1.5px">0.8<span class="p">%</span></div>
<div class="c v" style="left:832px;top:373px;width:57px;height:24px;background:#73c27c;padding-bottom:1.5px"><span class="m">-</span>0.7<span class="p">%</span></div>
<div class="c v" style="left:888px;top:373px;width:56px;height:24px;background:#ffeb84;padding-bottom:1.5px"><span class="m">-</span>0.3<span class="p">%</span></div>
<div class="c v" style="left:943px;top:373px;width:69px;height:24px;background:#d0de81;padding-bottom:1.5px"><span class="m">-</span>0.5<span class="p">%</span></div>
<div class="c v red" style="left:1011px;top:373px;width:69px;height:24px;background:#63be7b;padding-bottom:1.5px"><span class="m">-</span>0.7<span class="p">%</span></div>
<div class="c v s2" style="left:648px;top:396px;width:47px;height:24px;background:#e6e483;padding-bottom:2.3px"><span class="m">-</span>0.2<span class="p">%</span></div>
<div class="c v s2" style="left:694px;top:396px;width:47px;height:24px;background:#e0e282;padding-bottom:2.3px"><span class="m">-</span>0.2<span class="p">%</span></div>
<div class="c v" style="left:740px;top:396px;width:47px;height:24px;background:#f8696b;padding-bottom:1.5px">0.9<span class="p">%</span></div>
<div class="c v" style="left:786px;top:396px;width:47px;height:24px;background:#fcaa78;padding-bottom:1.5px">0.4<span class="p">%</span></div>
<div class="c v" style="left:832px;top:396px;width:57px;height:24px;background:#63be7b;padding-bottom:1.5px"><span class="m">-</span>0.9<span class="p">%</span></div>
<div class="c v" style="left:888px;top:396px;width:56px;height:24px;background:#c1d980;padding-bottom:1.5px"><span class="m">-</span>0.4<span class="p">%</span></div>
<div class="c v" style="left:943px;top:396px;width:69px;height:24px;background:#fed680;padding-bottom:1.5px">0.0<span class="p">%</span></div>
<div class="c v red" style="left:1011px;top:396px;width:69px;height:24px;background:#fdc47c;padding-bottom:1.5px">0.2<span class="p">%</span></div>
<div class="c v s2" style="left:648px;top:419px;width:47px;height:24px;background:#d0de81;padding-bottom:2.3px"><span class="m">-</span>0.4<span class="p">%</span></div>
<div class="c v s2" style="left:694px;top:419px;width:47px;height:24px;background:#ffeb84;padding-bottom:2.3px"><span class="m">-</span>0.2<span class="p">%</span></div>
<div class="c v" style="left:740px;top:419px;width:47px;height:24px;background:#fcaa78;padding-bottom:1.5px">0.1<span class="p">%</span></div>
<div class="c v" style="left:786px;top:419px;width:47px;height:24px;background:#f97b6e;padding-bottom:1.5px">0.4<span class="p">%</span></div>
<div class="c v" style="left:832px;top:419px;width:57px;height:24px;background:#63be7b;padding-bottom:1.5px"><span class="m">-</span>0.7<span class="p">%</span></div>
<div class="c v" style="left:888px;top:419px;width:56px;height:24px;background:#ffe683;padding-bottom:1.5px"><span class="m">-</span>0.2<span class="p">%</span></div>
<div class="c v" style="left:943px;top:419px;width:69px;height:24px;background:#f9e984;padding-bottom:1.5px"><span class="m">-</span>0.3<span class="p">%</span></div>
<div class="c v red" style="left:1011px;top:419px;width:69px;height:24px;background:#f6e883;padding-bottom:1.5px"><span class="m">-</span>0.3<span class="p">%</span></div>
<svg style="position:absolute;left:0;top:0;z-index:3" width="1080" height="444" viewBox="0 0 1080 444" fill="#161616">
<rect x="0" y="0" width="1080" height="1.1"/>
<rect x="189.50" y="22.62" width="452.58" height="1.15"/>
<rect x="647.92" y="22.62" width="431.85" height="1.15"/>
<rect x="0.00" y="45.42" width="189.50" height="1.15"/>
<rect x="189.50" y="45.42" width="452.58" height="1.15"/>
<rect x="647.92" y="45.42" width="431.85" height="1.15"/>
<rect x="641.50" y="45.42" width="7.00" height="1.15" opacity="0.45"/>
<rect x="0.00" y="68.02" width="189.50" height="1.15"/>
<rect x="189.50" y="68.02" width="452.58" height="1.15"/>
<rect x="647.92" y="68.02" width="431.85" height="1.15"/>
<rect x="641.50" y="68.02" width="7.00" height="1.15" opacity="0.45"/>
<rect x="0.00" y="91.72" width="189.50" height="1.15"/>
<rect x="189.50" y="91.72" width="452.58" height="1.15"/>
<rect x="647.92" y="91.72" width="431.85" height="1.15"/>
<rect x="641.50" y="91.72" width="7.00" height="1.15" opacity="0.45"/>
<rect x="0.00" y="114.42" width="189.50" height="1.15"/>
<rect x="189.50" y="114.42" width="452.58" height="1.15"/>
<rect x="647.92" y="114.42" width="431.85" height="1.15"/>
<rect x="641.50" y="114.42" width="7.00" height="1.15" opacity="0.45"/>
<rect x="0.00" y="137.12" width="189.50" height="1.15"/>
<rect x="189.50" y="137.12" width="452.58" height="1.15"/>
<rect x="647.92" y="137.12" width="431.85" height="1.15"/>
<rect x="641.50" y="137.12" width="7.00" height="1.15" opacity="0.45"/>
<rect x="0.00" y="160.43" width="189.50" height="1.15"/>
<rect x="189.50" y="160.43" width="452.58" height="1.15"/>
<rect x="647.92" y="160.43" width="431.85" height="1.15"/>
<rect x="641.50" y="160.43" width="7.00" height="1.15" opacity="0.45"/>
<rect x="0.00" y="183.33" width="189.50" height="1.15"/>
<rect x="189.50" y="183.33" width="452.58" height="1.15"/>
<rect x="647.92" y="183.33" width="431.85" height="1.15"/>
<rect x="641.50" y="183.33" width="7.00" height="1.15" opacity="0.45"/>
<rect x="0.00" y="208.93" width="189.50" height="1.15"/>
<rect x="189.50" y="208.93" width="452.58" height="1.15"/>
<rect x="647.92" y="208.93" width="431.85" height="1.15"/>
<rect x="641.50" y="208.93" width="7.00" height="1.15" opacity="0.45"/>
<rect x="0.00" y="235.73" width="189.50" height="1.15"/>
<rect x="189.50" y="235.73" width="452.58" height="1.15"/>
<rect x="647.92" y="235.73" width="431.85" height="1.15"/>
<rect x="189.50" y="258.12" width="452.58" height="1.15"/>
<rect x="647.92" y="258.12" width="431.85" height="1.15"/>
<rect x="0.00" y="280.78" width="189.50" height="1.15"/>
<rect x="189.50" y="280.78" width="452.58" height="1.15"/>
<rect x="647.92" y="280.78" width="431.85" height="1.15"/>
<rect x="641.50" y="280.78" width="7.00" height="1.15" opacity="0.45"/>
<rect x="0.00" y="303.73" width="189.50" height="1.15"/>
<rect x="189.50" y="303.73" width="452.58" height="1.15"/>
<rect x="647.92" y="303.73" width="431.85" height="1.15"/>
<rect x="641.50" y="303.73" width="7.00" height="1.15" opacity="0.45"/>
<rect x="0.00" y="326.53" width="189.50" height="1.15"/>
<rect x="189.50" y="326.53" width="452.58" height="1.15"/>
<rect x="647.92" y="326.53" width="431.85" height="1.15"/>
<rect x="641.50" y="326.53" width="7.00" height="1.15" opacity="0.45"/>
<rect x="0.00" y="350.23" width="189.50" height="1.15"/>
<rect x="189.50" y="350.23" width="452.58" height="1.15"/>
<rect x="647.92" y="350.23" width="431.85" height="1.15"/>
<rect x="641.50" y="350.23" width="7.00" height="1.15" opacity="0.45"/>
<rect x="0.00" y="373.12" width="189.50" height="1.15"/>
<rect x="189.50" y="373.12" width="452.58" height="1.15"/>
<rect x="647.92" y="373.12" width="431.85" height="1.15"/>
<rect x="641.50" y="373.12" width="7.00" height="1.15" opacity="0.45"/>
<rect x="0.00" y="396.03" width="189.50" height="1.15"/>
<rect x="189.50" y="396.03" width="452.58" height="1.15"/>
<rect x="647.92" y="396.03" width="431.85" height="1.15"/>
<rect x="641.50" y="396.03" width="7.00" height="1.15" opacity="0.45"/>
<rect x="0.00" y="418.82" width="189.50" height="1.15"/>
<rect x="189.50" y="418.82" width="452.58" height="1.15"/>
<rect x="647.92" y="418.82" width="431.85" height="1.15"/>
<rect x="641.50" y="418.82" width="7.00" height="1.15" opacity="0.45"/>
<rect x="0.00" y="441.82" width="189.50" height="1.15"/>
<rect x="189.50" y="441.82" width="452.58" height="1.15"/>
<rect x="647.92" y="441.82" width="431.85" height="1.15"/>
<rect x="-0.07" y="0.00" width="1.15" height="442.97"/>
<rect x="188.93" y="0.00" width="1.15" height="442.97"/>
<rect x="234.93" y="23.20" width="1.15" height="213.10"/>
<rect x="234.93" y="258.70" width="1.15" height="184.27"/>
<rect x="280.93" y="23.20" width="1.15" height="213.10"/>
<rect x="280.93" y="258.70" width="1.15" height="184.27"/>
<rect x="326.93" y="23.20" width="1.15" height="213.10"/>
<rect x="326.93" y="258.70" width="1.15" height="184.27"/>
<rect x="372.93" y="23.20" width="1.15" height="213.10"/>
<rect x="372.93" y="258.70" width="1.15" height="184.27"/>
<rect x="418.93" y="23.20" width="1.15" height="213.10"/>
<rect x="418.93" y="258.70" width="1.15" height="184.27"/>
<rect x="470.93" y="23.20" width="1.15" height="213.10"/>
<rect x="470.93" y="258.70" width="1.15" height="184.27"/>
<rect x="521.92" y="23.20" width="1.15" height="213.10"/>
<rect x="521.92" y="258.70" width="1.15" height="184.27"/>
<rect x="581.92" y="23.20" width="1.15" height="213.10"/>
<rect x="581.92" y="258.70" width="1.15" height="184.27"/>
<rect x="640.92" y="0.00" width="1.15" height="236.88"/>
<rect x="640.92" y="258.12" width="1.15" height="184.85"/>
<rect x="647.92" y="0.00" width="1.15" height="236.88"/>
<rect x="647.92" y="258.12" width="1.15" height="184.85"/>
<rect x="693.92" y="23.20" width="1.15" height="213.10"/>
<rect x="693.92" y="258.70" width="1.15" height="184.27"/>
<rect x="739.92" y="23.20" width="1.15" height="213.10"/>
<rect x="739.92" y="258.70" width="1.15" height="184.27"/>
<rect x="786.02" y="23.20" width="1.15" height="213.10"/>
<rect x="786.02" y="258.70" width="1.15" height="184.27"/>
<rect x="831.92" y="23.20" width="1.15" height="213.10"/>
<rect x="831.92" y="258.70" width="1.15" height="184.27"/>
<rect x="887.92" y="23.20" width="1.15" height="213.10"/>
<rect x="887.92" y="258.70" width="1.15" height="184.27"/>
<rect x="943.02" y="23.20" width="1.15" height="213.10"/>
<rect x="943.02" y="258.70" width="1.15" height="184.27"/>
<rect x="1010.52" y="23.20" width="1.15" height="213.10"/>
<rect x="1010.52" y="258.70" width="1.15" height="184.27"/>
<rect x="1078.62" y="22.62" width="1.15" height="420.35"/>
</svg>
<svg class="wm" style="left:836.5px;top:386.5px;width:29.5px;height:29.5px" viewBox="0 -880 1000 1000"><text x="0" y="0" font-size="1000" font-family='"Liberation Sans","Noto Sans CJK SC",sans-serif'>公</text></svg>
<svg class="wm" style="left:867.0px;top:386.5px;width:29.5px;height:29.5px" viewBox="0 -880 1000 1000"><text x="0" y="0" font-size="1000" font-family='"Liberation Sans","Noto Sans CJK SC",sans-serif'>众</text></svg>
<svg class="wm" style="left:897.5px;top:386.5px;width:29.5px;height:29.5px" viewBox="0 -880 1000 1000"><text x="0" y="0" font-size="1000" font-family='"Liberation Sans","Noto Sans CJK SC",sans-serif'>号</text></svg>
<svg class="wm" style="left:957.5px;top:386.5px;width:29.5px;height:29.5px" viewBox="0 -880 1000 1000"><text x="0" y="0" font-size="1000" font-family='"Liberation Sans","Noto Sans CJK SC",sans-serif'>崔</text></svg>
<svg class="wm" style="left:988.5px;top:386.5px;width:29.5px;height:29.5px" viewBox="0 -880 1000 1000"><text x="0" y="0" font-size="1000" font-family='"Liberation Sans","Noto Sans CJK SC",sans-serif'>东</text></svg>
<svg class="wm" style="left:1016.5px;top:386.5px;width:29.5px;height:29.5px" viewBox="0 -880 1000 1000"><text x="0" y="0" font-size="1000" font-family='"Liberation Sans","Noto Sans CJK SC",sans-serif'>树</text></svg>
<div style="position:absolute;left:936.5px;top:399.5px;width:4px;height:4px;border-radius:2px;background:rgba(30,30,30,0.37)"></div>
<svg class="wm" style="left:786px;top:380px;width:46px;height:36px" viewBox="786 380 46 36">
<defs><mask id="mk"><rect x="786" y="380" width="46" height="36" fill="#fff"/><ellipse cx="815.3" cy="403.6" rx="13.6" ry="10.6" fill="#000"/><circle cx="799" cy="391.3" r="1.9" fill="#000"/><circle cx="809.2" cy="391.3" r="1.9" fill="#000"/></mask>
<mask id="mk2"><rect x="786" y="380" width="46" height="36" fill="#fff"/><circle cx="811.6" cy="401.3" r="1.5" fill="#000"/><circle cx="818.6" cy="401.3" r="1.5" fill="#000"/></mask></defs>
<g mask="url(#mk)"><ellipse cx="804" cy="395" rx="15" ry="11.3"/><path d="M794 403l-2.500 6 7-3.500z"/></g>
<g mask="url(#mk2)"><ellipse cx="815.3" cy="403.600" rx="12" ry="9"/><path d="M822 410.500l4.500 3.200-1.500-5.500z"/></g>
</svg>
</body></html>
